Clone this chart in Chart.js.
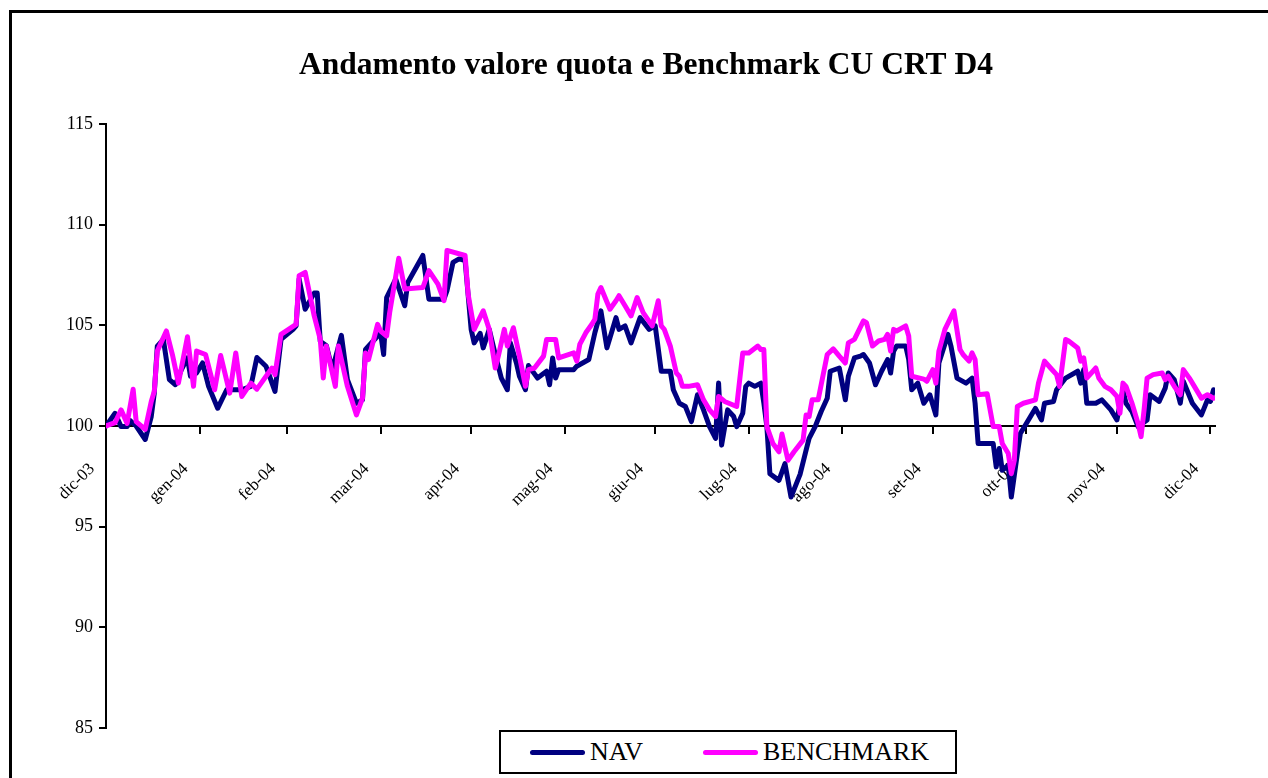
<!DOCTYPE html>
<html>
<head>
<meta charset="utf-8">
<script src="https://cdn.jsdelivr.net/npm/chart.js@4/dist/chart.umd.min.js"></script>
<style>
  body { margin: 0; background: #fff; }
  #wrap { position: relative; width: 1268px; height: 778px; overflow: hidden; }
  #frame { position: absolute; left: 9px; top: 10px; width: 1300px; height: 800px; border-top: 3px solid #000; border-left: 3px solid #000; }
  #myChart { position: absolute; left: 0; top: 0; }
  #legend { position: absolute; left: 499px; top: 730px; width: 454px; height: 40px; border: 2px solid #000; background: #fff;
            font-family: 'Liberation Serif', 'Times New Roman', serif; font-size: 26px; color: #000; }
  .item { position: absolute; top: 3px; line-height: 34px; }
  .swatch { display: inline-block; width: 55px; height: 5px; border-radius: 3px; vertical-align: middle; margin-right: 5px; position: relative; top: -2px; }
</style>
</head>
<body>
<div id="wrap">
  <canvas id="myChart" width="1268" height="778"></canvas>
  <div id="frame"></div>
  <div id="legend"></div>
</div>
<script>
'use strict';

// month ends, counted in days from 31 Dec 2003
let monthDays = [0, 31, 60, 91, 121, 152, 182, 213, 244, 274, 305, 335, 366];
let monthLabels = ['dic-03', 'gen-04', 'feb-04', 'mar-04', 'apr-04', 'mag-04', 'giu-04', 'lug-04', 'ago-04', 'set-04', 'ott-04', 'nov-04', 'dic-04'];
let yTicks = [85, 90, 95, 100, 105, 110, 115];

let navDays = [0, 3, 5, 7, 8, 10, 13, 15, 16, 17, 19, 21, 23, 25, 27, 28, 30, 32, 34, 37, 40, 42, 45, 48, 50, 53, 56, 58, 62, 63, 64, 66, 69, 70, 71, 73, 75, 78, 80, 83, 85, 86, 91, 92, 93, 96, 99, 100, 105, 107, 112, 113, 115, 117, 119, 121, 122, 124, 125, 127, 129, 131, 133, 134, 136, 137, 139, 140, 143, 146, 147, 148, 149, 150, 155, 156, 160, 162, 164, 166, 169, 170, 172, 174, 177, 180, 182, 184, 187, 188, 190, 192, 194, 196, 198, 200, 202, 203, 204, 206, 208, 209, 211, 212, 213, 215, 217, 218, 219, 220, 223, 225, 227, 230, 232, 233, 235, 237, 239, 240, 243, 245, 246, 248, 250, 251, 253, 255, 257, 259, 260, 261, 262, 265, 266, 267, 269, 271, 273, 275, 276, 279, 280, 282, 285, 287, 288, 289, 292, 294, 295, 296, 297, 299, 300, 302, 303, 308, 310, 311, 314, 315, 318, 322, 323, 324, 325, 328, 330, 333, 335, 337, 338, 340, 342, 345, 346, 349, 351, 352, 354, 356, 357, 360, 363, 365, 366, 367];
let navValues = [100.0, 100.63, 99.97, 99.97, 100.27, 100.0, 99.33, 100.47, 101.63, 103.97, 104.3, 102.3, 102.05, 102.8, 103.38, 102.47, 102.63, 103.13, 101.97, 100.88, 101.8, 101.8, 101.8, 101.97, 103.4, 102.97, 101.72, 104.3, 104.8, 104.97, 107.3, 105.8, 106.6, 106.6, 104.2, 104.0, 102.8, 104.5, 102.3, 101.13, 101.3, 103.8, 104.63, 103.55, 106.38, 107.3, 105.97, 107.13, 108.47, 106.3, 106.3, 106.72, 108.13, 108.3, 108.22, 104.8, 104.13, 104.6, 103.88, 104.8, 103.55, 102.38, 101.8, 104.13, 103.13, 102.47, 101.8, 103.0, 102.38, 102.72, 102.05, 103.38, 102.38, 102.8, 102.8, 102.97, 103.3, 104.63, 105.72, 103.88, 105.38, 104.8, 104.97, 104.13, 105.38, 104.8, 104.97, 102.72, 102.72, 101.8, 101.13, 100.97, 100.22, 101.55, 100.8, 99.97, 99.38, 102.13, 99.05, 100.8, 100.47, 99.97, 100.63, 101.97, 102.13, 101.97, 102.13, 101.13, 99.97, 97.63, 97.3, 98.13, 96.47, 97.6, 98.8, 99.38, 99.97, 100.72, 101.38, 102.72, 102.88, 101.3, 102.47, 103.38, 103.47, 103.55, 103.13, 102.05, 102.72, 103.3, 102.63, 103.72, 103.97, 103.97, 103.3, 101.8, 102.13, 101.13, 101.55, 100.55, 103.13, 104.55, 103.97, 102.38, 102.13, 102.38, 101.13, 99.13, 99.13, 99.13, 97.97, 98.88, 97.8, 98.05, 96.47, 98.63, 99.63, 100.88, 100.3, 101.13, 101.22, 101.8, 102.38, 102.72, 102.13, 102.8, 101.13, 101.13, 101.3, 100.8, 100.3, 101.8, 101.13, 100.72, 99.97, 100.3, 101.55, 101.22, 101.88, 102.63, 102.3, 101.13, 102.22, 101.13, 100.55, 101.3, 101.22, 101.8];

let benchDays = [0, 3, 5, 7, 9, 10, 13, 15, 16, 17, 20, 22, 24, 27, 29, 30, 33, 36, 38, 41, 43, 45, 48, 50, 55, 56, 58, 63, 64, 66, 69, 71, 72, 73, 76, 77, 80, 83, 85, 86, 87, 90, 91, 93, 94, 97, 99, 105, 107, 110, 112, 113, 119, 120, 122, 125, 127, 129, 130, 132, 133, 135, 137, 139, 140, 142, 145, 146, 149, 150, 155, 156, 157, 159, 161, 162, 163, 164, 167, 169, 170, 172, 174, 176, 178, 181, 183, 184, 185, 187, 189, 190, 191, 193, 196, 198, 200, 202, 203, 205, 209, 211, 213, 216, 217, 218, 219, 221, 223, 224, 226, 228, 231, 232, 233, 234, 236, 239, 241, 243, 245, 246, 248, 251, 252, 254, 256, 258, 259, 260, 261, 262, 265, 266, 267, 271, 272, 274, 275, 276, 278, 281, 283, 284, 286, 287, 288, 289, 292, 294, 296, 297, 299, 300, 301, 302, 304, 308, 309, 311, 313, 315, 316, 318, 319, 322, 323, 324, 325, 328, 329, 331, 333, 335, 336, 337, 338, 340, 342, 343, 344, 345, 347, 350, 351, 352, 354, 356, 357, 359, 361, 363, 365, 367];
let benchValues = [100.0, 100.17, 100.8, 100.13, 101.83, 100.22, 99.83, 101.22, 101.72, 103.72, 104.72, 103.55, 102.13, 104.43, 101.97, 103.72, 103.55, 101.8, 103.5, 101.63, 103.63, 101.47, 102.13, 101.83, 102.88, 102.55, 104.55, 105.05, 107.47, 107.63, 105.47, 104.3, 102.38, 103.97, 101.97, 103.97, 101.97, 100.55, 101.38, 103.63, 103.3, 105.05, 104.72, 104.47, 105.63, 108.33, 106.8, 106.88, 107.72, 107.05, 106.22, 108.72, 108.47, 106.55, 104.8, 105.72, 104.8, 102.88, 103.47, 104.8, 103.97, 104.88, 103.47, 101.97, 102.8, 102.88, 103.47, 104.3, 104.3, 103.38, 103.63, 103.22, 104.05, 104.63, 105.05, 105.3, 106.55, 106.88, 105.8, 106.22, 106.47, 105.97, 105.47, 106.38, 105.63, 104.97, 106.22, 104.97, 104.8, 103.97, 102.63, 102.47, 101.97, 101.97, 102.05, 101.3, 100.8, 100.47, 101.47, 101.22, 100.97, 103.63, 103.63, 103.97, 103.8, 103.8, 99.97, 99.13, 98.72, 99.6, 98.3, 98.72, 99.3, 100.55, 100.47, 101.3, 101.3, 103.55, 103.83, 103.47, 103.13, 104.13, 104.3, 105.22, 105.13, 103.97, 104.22, 104.3, 104.55, 103.72, 104.8, 104.72, 104.97, 104.47, 102.47, 102.33, 102.22, 102.8, 102.13, 103.72, 104.8, 105.72, 103.8, 103.55, 103.22, 103.63, 103.3, 101.55, 101.6, 99.97, 99.97, 99.13, 98.63, 97.63, 98.3, 100.97, 101.13, 101.3, 102.13, 103.22, 102.88, 102.55, 101.97, 104.3, 104.22, 103.88, 103.22, 103.38, 102.38, 102.88, 102.38, 101.97, 101.8, 101.47, 100.63, 102.13, 101.97, 101.13, 100.13, 99.47, 100.8, 102.38, 102.55, 102.63, 102.3, 102.47, 101.97, 101.55, 102.8, 102.38, 101.88, 101.38, 101.55, 101.38];

let chartTitle = 'Andamento valore quota e Benchmark CU CRT D4';
let serif = "'Liberation Serif', 'Times New Roman', serif";

function toPoints(days, values) {
    let pts = [];
    for (let i = 0; i < days.length; i++) {
        pts.push({ x: days[i], y: values[i] });
    }
    return pts;
}

let datasets = [
    {
        label: 'NAV',
        data: toPoints(navDays, navValues),
        borderColor: '#000080',
        order: 1
    },
    {
        label: 'BENCHMARK',
        data: toPoints(benchDays, benchValues),
        borderColor: '#ff00ff',
        order: 0
    }
];
datasets.forEach(function (ds) {
    ds.borderWidth = 5;
    ds.pointRadius = 0;
    ds.tension = 0;
    ds.fill = false;
    ds.borderJoinStyle = 'round';
    ds.borderCapStyle = 'round';
});

// the title sits centred on the whole frame, which runs past the right edge
let frameTitle = {
    id: 'frameTitle',
    afterDraw: function (chart) {
        let c = chart.ctx;
        c.save();
        c.font = 'bold 31.5px ' + serif;
        c.fillStyle = '#000';
        c.textAlign = 'center';
        c.textBaseline = 'middle';
        c.fillText(chartTitle, 646, 66);
        c.restore();
    }
};

let axisGrid = { drawOnChartArea: false, drawTicks: true, tickLength: 7, color: '#000', lineWidth: 2 };
let axisBorder = { display: true, color: '#000', width: 2 };

let ctx = document.getElementById('myChart').getContext('2d');
let myChart = new Chart(ctx, {
    type: 'line',
    data: { datasets: datasets },
    plugins: [frameTitle],
    options: {
        responsive: false,
        animation: false,
        layout: { padding: { top: 124, right: 53, bottom: 50, left: 0 } },
        plugins: {
            legend: { display: false },
            tooltip: { enabled: false },
            title: { display: false }
        },
        scales: {
            x: {
                type: 'linear',
                position: { y: 100 },
                min: 0,
                max: 367.5,
                afterBuildTicks: function (scale) {
                    scale.ticks = monthDays.map(function (d) { return { value: d }; });
                },
                ticks: {
                    autoSkip: false,
                    minRotation: 45,
                    maxRotation: 45,
                    padding: 26,
                    labelOffset: -14,
                    color: '#000',
                    font: { family: serif, size: 17 },
                    callback: function (value, index) { return monthLabels[index]; }
                },
                grid: axisGrid,
                border: axisBorder
            },
            y: {
                min: 85,
                max: 115,
                afterBuildTicks: function (scale) {
                    scale.ticks = yTicks.map(function (v) { return { value: v }; });
                },
                afterFit: function (scale) { scale.width = 106; },
                ticks: { color: '#000', padding: 6, font: { family: serif, size: 18 } },
                grid: axisGrid,
                border: axisBorder
            }
        }
    }
});

// legend box, built from the datasets
let legendEl = document.getElementById('legend');
let itemLeft = [29, 202];
datasets.forEach(function (ds, i) {
    let item = document.createElement('div');
    item.className = 'item';
    item.style.left = itemLeft[i] + 'px';
    let sw = document.createElement('span');
    sw.className = 'swatch';
    sw.style.background = ds.borderColor;
    item.appendChild(sw);
    item.appendChild(document.createTextNode(ds.label));
    legendEl.appendChild(item);
});

console.log(myChart.chartArea);
</script>
</body>
</html>
